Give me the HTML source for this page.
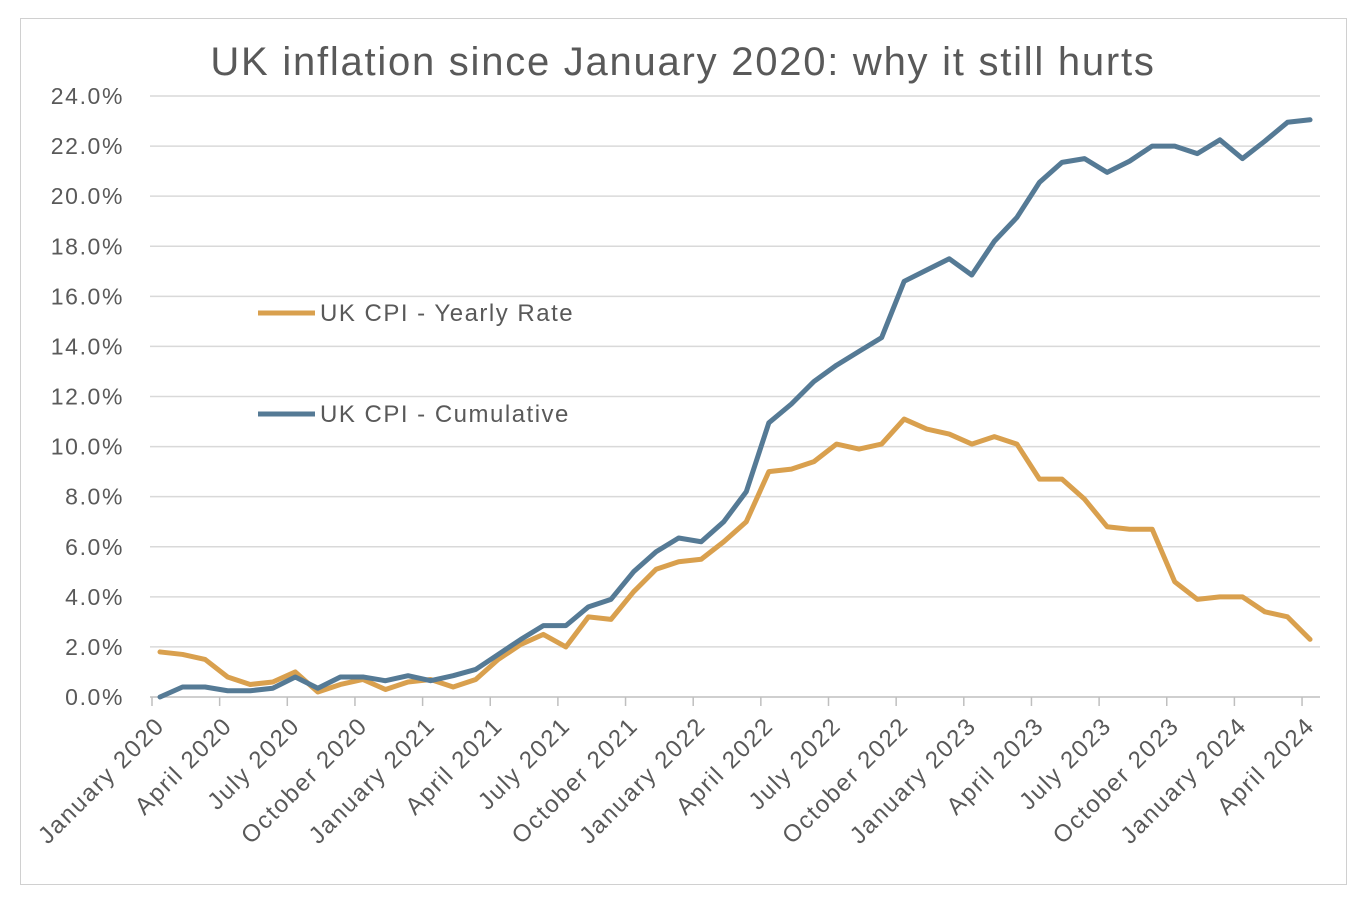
<!DOCTYPE html>
<html><head><meta charset="utf-8"><style>
html,body{margin:0;padding:0;background:#fff;}
svg text{font-family:"Liberation Sans",sans-serif;fill:#595959;}
</style></head><body>
<svg id="chart" width="1360" height="902" xmlns="http://www.w3.org/2000/svg">
<rect x="20.5" y="18.5" width="1326" height="866" fill="#fff" stroke="#d0d0d0"/>
<text x="683" y="75" font-size="40" letter-spacing="1.75" text-anchor="middle">UK inflation since January 2020: why it still hurts</text>
<g id="grid"></g><g id="xaxis"></g><g id="series"></g>
<g>
<line x1="258" y1="313" x2="315" y2="313" stroke="#D9A04E" stroke-width="5"/>
<text x="320" y="321" font-size="24" letter-spacing="1.5">UK CPI - Yearly Rate</text>
<line x1="258" y1="414" x2="315" y2="414" stroke="#557A95" stroke-width="5"/>
<text x="320" y="422" font-size="24" letter-spacing="1.5">UK CPI - Cumulative</text>
</g>
</svg>
<script>
const yearly=[1.8,1.7,1.5,0.8,0.5,0.6,1.0,0.2,0.5,0.7,0.3,0.6,
0.7,0.4,0.7,1.5,2.1,2.5,2.0,3.2,3.1,4.2,5.1,5.4,
5.5,6.2,7.0,9.0,9.1,9.4,10.1,9.9,10.1,11.1,10.7,10.5,
10.1,10.4,10.1,8.7,8.7,7.9,6.8,6.7,6.7,4.6,3.9,4.0,
4.0,3.4,3.2,2.3];
const cumulative=[0,0.4,0.4,0.25,0.25,0.35,0.8,0.35,0.8,0.8,0.65,0.85,
0.65,0.85,1.1,1.7,2.3,2.85,2.85,3.6,3.9,5.0,5.8,6.35,
6.2,7.0,8.2,10.95,11.7,12.6,13.25,13.8,14.35,16.6,17.05,17.5,
16.85,18.2,19.15,20.55,21.35,21.5,20.95,21.4,22.0,22.0,21.7,22.25,
21.5,22.2,22.95,23.05];
const yTicks=[0,2,4,6,8,10,12,14,16,18,20,22,24];
const xLabels=["January 2020","April 2020","July 2020","October 2020","January 2021","April 2021","July 2021","October 2021","January 2022","April 2022","July 2022","October 2022","January 2023","April 2023","July 2023","October 2023","January 2024","April 2024"];
const NS="http://www.w3.org/2000/svg";
const X0=160,DX=22.55,Y0=697,PY=(697-96)/24;
const xs=i=>X0+i*DX, ys=v=>Y0-v*PY;
function mk(t,a,p){const e=document.createElementNS(NS,t);for(const k in a)e.setAttribute(k,a[k]);p.appendChild(e);return e;}
const grid=document.getElementById('grid');
yTicks.forEach(v=>{
 const l=mk('line',{x1:150,x2:1320,y1:ys(v),y2:ys(v),stroke:v===0?'#bfbfbf':'#d9d9d9','stroke-width':1.5},grid);
 
 
 const t=mk('text',{x:124,y:ys(v)+8,'font-size':23,'letter-spacing':1.6,'text-anchor':'end'},grid);
 t.textContent=v.toFixed(1)+'%';
 
 
});
const xa=document.getElementById('xaxis');
xLabels.forEach((s,j)=>{
 const x=152+j*67.65;
 const tk=mk('line',{x1:x,x2:x,y1:697,y2:706,stroke:'#bfbfbf','stroke-width':1.5},xa);
 
 
 const t=mk('text',{x:x+14,y:727,'font-size':24,'letter-spacing':1.8,'text-anchor':'end',transform:`rotate(-45 ${x+14} 727)`},xa);
 t.textContent=s;
 
 
});
const sg=document.getElementById('series');
function line(d,c,n){
 const p=mk('polyline',{points:d.map((v,i)=>xs(i)+','+ys(v)).join(' '),fill:'none',stroke:c,'stroke-width':5,'stroke-linejoin':'round','stroke-linecap':'round'},sg);
 
 
}
line(yearly,'#D9A04E','yearly-rate-line');
line(cumulative,'#557A95','cumulative-line');
</script>
</body></html>
